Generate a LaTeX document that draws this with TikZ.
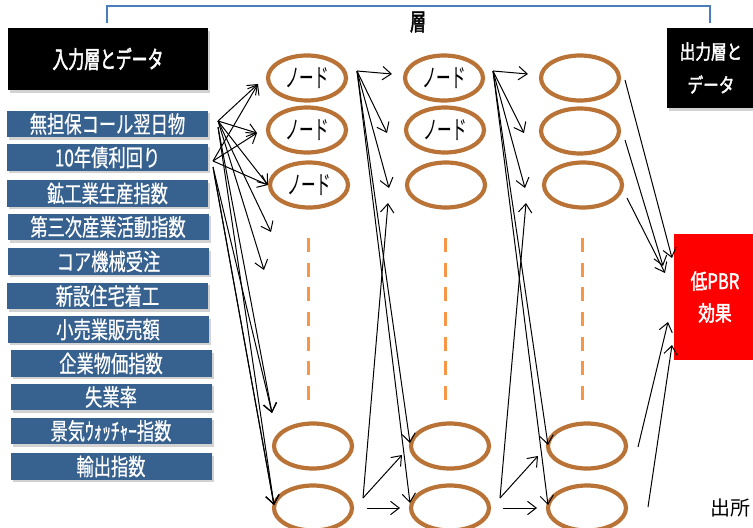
\documentclass[tikz,border=0pt]{standalone}
\usepackage{fontspec}
\newfontfamily\jpr{Noto Sans CJK JP}
\newfontfamily\jpbox[FakeStretch=0.74,FakeBold=0.6]{Noto Sans CJK JP}
\newfontfamily\jpnode[FakeStretch=0.56]{Noto Sans CJK JP}
\newfontfamily\jphead[FakeStretch=0.66,FakeBold=2]{Noto Sans CJK JP}
\newfontfamily\jpout[FakeStretch=0.78,FakeBold=2]{Noto Sans CJK JP}
\usetikzlibrary{arrows.meta,calc,shapes.geometric,shadows}
\definecolor{inblue}{HTML}{37618F}
\definecolor{ringbrown}{HTML}{B97337}
\definecolor{dashorange}{HTML}{F79646}
\definecolor{brline}{HTML}{4A7EBB}
\begin{document}
\begin{tikzpicture}[x=0.75pt,y=-0.75pt,
  inbox/.style={rectangle, fill=inblue, text=white, inner sep=0pt,
    minimum width={201*0.75pt}, minimum height={26.5*0.75pt},
    font=\jpbox\fontsize{17.5}{18}\selectfont,
    drop shadow={shadow xshift=1.5pt, shadow yshift=-1.8pt, fill=black!50, opacity=0.35}},
  headbox/.style={rectangle, fill=black, text=white, inner sep=0pt, align=center,
    drop shadow={shadow xshift=1.5pt, shadow yshift=-2pt, fill=black!50, opacity=0.35}},
  nn/.style={ellipse, draw=ringbrown, line width={4.2*0.75pt}, inner sep=0pt,
    minimum width={78*0.75pt}, minimum height={45*0.75pt},
    font=\jpnode\fontsize{19.5}{20}\selectfont},
  arr/.style={-{Straight Barb[length=6.5pt,width=10pt]}, line width=0.75pt, black},
  odash/.style={dashorange, line width={3*0.75pt}, dash pattern=on 10.5pt off 8pt}]
\useasboundingbox (0,0) rectangle (753,528);
\fill[white] (0,0) rectangle (753,528);

% bracket and layer label
\draw[brline, line width=1.1pt] (107,23) |- (710,6) -- (710,23);
\node[font=\jphead\fontsize{18}{18}\selectfont] (layer) at (418,22) {層};

% headers
\node[headbox, minimum width={200*0.75pt}, minimum height={62*0.75pt},
  font=\jphead\fontsize{18}{18}\selectfont] (inhead) at (108,59) {入力層とデータ};
\node[headbox, minimum width={88*0.75pt}, minimum height={80*0.75pt},
  font=\jpout\fontsize{15}{25}\selectfont] (outhead) at (711,68) {出力層と\\データ};

% input boxes
\node[inbox] (b1) at (107.5,124) {無担保コール翌日物};
\node[inbox] (b2) at (107.5,157.5) {10年債利回り};
\node[inbox] (b3) at (107.5,193.5) {鉱工業生産指数};
\node[inbox] (b4) at (108,227) {第三次産業活動指数};
\node[inbox] (b5) at (108.5,261.5) {コア機械受注};
\node[inbox] (b6) at (107.5,296) {新設住宅着工};
\node[inbox] (b7) at (108,329.5) {小売業販売額};
\node[inbox] (b8) at (111,363.5) {企業物価指数};
\node[inbox] (b9) at (111,397) {失業率};
\node[inbox] (b10) at (111,431) {景気ｳｫｯﾁｬｰ指数};
\node[inbox] (b11) at (111,466.5) {輸出指数};

% hidden-layer nodes
\node[nn] (c1r1) at (307,78) {ノード};
\node[nn] (c1r2) at (307,130) {ノード};
\node[nn] (c1r3) at (309,185) {ノード};
\node[nn] (c1r4) at (313,446) {};
\node[nn] (c1r5) at (313,508) {};
\node[nn] (c2r1) at (444,78) {ノード};
\node[nn] (c2r2) at (445,130) {ノード};
\node[nn] (c2r3) at (446,185) {};
\node[nn] (c2r4) at (450,446) {};
\node[nn] (c2r5) at (450,508) {};
\node[nn] (c3r1) at (580,78) {};
\node[nn] (c3r2) at (580,131) {};
\node[nn] (c3r3) at (583,185) {};
\node[nn] (c3r4) at (587,446) {};
\node[nn] (c3r5) at (587,508) {};

% dashed continuation
\coordinate (d1a) at (308,238); \coordinate (d1b) at (308,401);
\coordinate (d2a) at (445,238); \coordinate (d2b) at (445,401);
\coordinate (d3a) at (582,238); \coordinate (d3b) at (582,401);
\draw[odash] (d1a) -- (d1b);
\draw[odash] (d2a) -- (d2b);
\draw[odash] (d3a) -- (d3b);

% output box
\node[rectangle, fill=red, text=white, inner sep=0pt, minimum width={82*0.75pt},
  minimum height={126*0.75pt}, align=center,
  font=\jpout\fontsize{16}{24}\selectfont] (out) at (715,297) {低PBR\\効果};

\node[anchor=east, inner sep=0pt, font=\jpr\fontsize{15}{16}\selectfont] (src) at (751,508) {出所};

% input -> column 1
\coordinate (iA) at (218,121);
\coordinate (iB) at (213,161);
\coordinate (iA2) at (218,127);
\coordinate (iB2) at (213,167);
\coordinate (iC) at (214,173);
\coordinate (t11) at (258,84);
\coordinate (t12) at (257,133);
\coordinate (t14) at (271,232);
\coordinate (t15) at (264,270);
\coordinate (t16) at (272,413);
\coordinate (t17) at (274,505);
\draw[arr] (iA) -- (t11);
\draw[arr] (iA) -- (t12);
\draw[arr] (iA) -- (c1r3.west);
\draw[arr] (iA) -- (t14);
\draw[arr] (iA) -- (t15);
\draw[arr] (iB) -- (t11);
\draw[arr] (iB) -- (t12);
\draw[arr] (iB) -- (c1r3.west);
\draw[arr] (iA2) -- (t16);
\draw[arr] (iB2) -- (t16);
\draw[arr] (iA2) -- (t17);
\draw[arr] (iB2) -- (t17);
\draw[arr] (iC) -- (t17);

% column 1 -> column 2
\coordinate (s1) at (357,71);
\coordinate (p1) at (363,498);
\coordinate (p1h) at (367,508);
\coordinate (u12a) at (392,74);
\coordinate (u12b) at (387,133);
\coordinate (u12c) at (389,188);
\coordinate (u12d) at (410,443);
\coordinate (u12e) at (410,503);
\coordinate (u12f) at (388,203);
\coordinate (u12g) at (402,455);
\coordinate (u12h) at (400,508);
\draw[arr] (s1) -- (u12a);
\draw[arr] (s1) -- (u12b);
\draw[arr] (s1) -- (u12c);
\draw[arr] (s1) -- (u12d);
\draw[arr] (s1) -- (u12e);
\draw[arr] (p1) -- (u12f);
\draw[arr] (p1) -- (u12g);
\draw[arr] (p1h) -- (u12h);

% column 2 -> column 3
\coordinate (s2) at (493,71);
\coordinate (p2) at (500,498);
\coordinate (p2h) at (503,508);
\coordinate (u23a) at (528,74);
\coordinate (u23b) at (524,133);
\coordinate (u23c) at (525,188);
\coordinate (u23d) at (548,445);
\coordinate (u23e) at (548,505);
\coordinate (u23f) at (526,203);
\coordinate (u23g) at (538,456);
\coordinate (u23h) at (537,508);
\draw[arr] (s2) -- (u23a);
\draw[arr] (s2) -- (u23b);
\draw[arr] (s2) -- (u23c);
\draw[arr] (s2) -- (u23d);
\draw[arr] (s2) -- (u23e);
\draw[arr] (p2) -- (u23f);
\draw[arr] (p2) -- (u23g);
\draw[arr] (p2h) -- (u23h);

% column 3 -> output
\coordinate (r1) at (625,80);
\coordinate (r2) at (625,140);
\coordinate (r3) at (627,198);
\coordinate (r4) at (638,447);
\coordinate (r5) at (648,507);
\coordinate (o1) at (672,258);
\coordinate (o2) at (663,266);
\coordinate (o3) at (665,273);
\coordinate (o4) at (668,322);
\coordinate (o5) at (672,345);
\draw[arr] (r1) -- (o1);
\draw[arr] (r2) -- (o2);
\draw[arr] (r3) -- (o3);
\draw[arr] (r4) -- (o4);
\draw[arr] (r5) -- (o5);
\end{tikzpicture}
\end{document}
